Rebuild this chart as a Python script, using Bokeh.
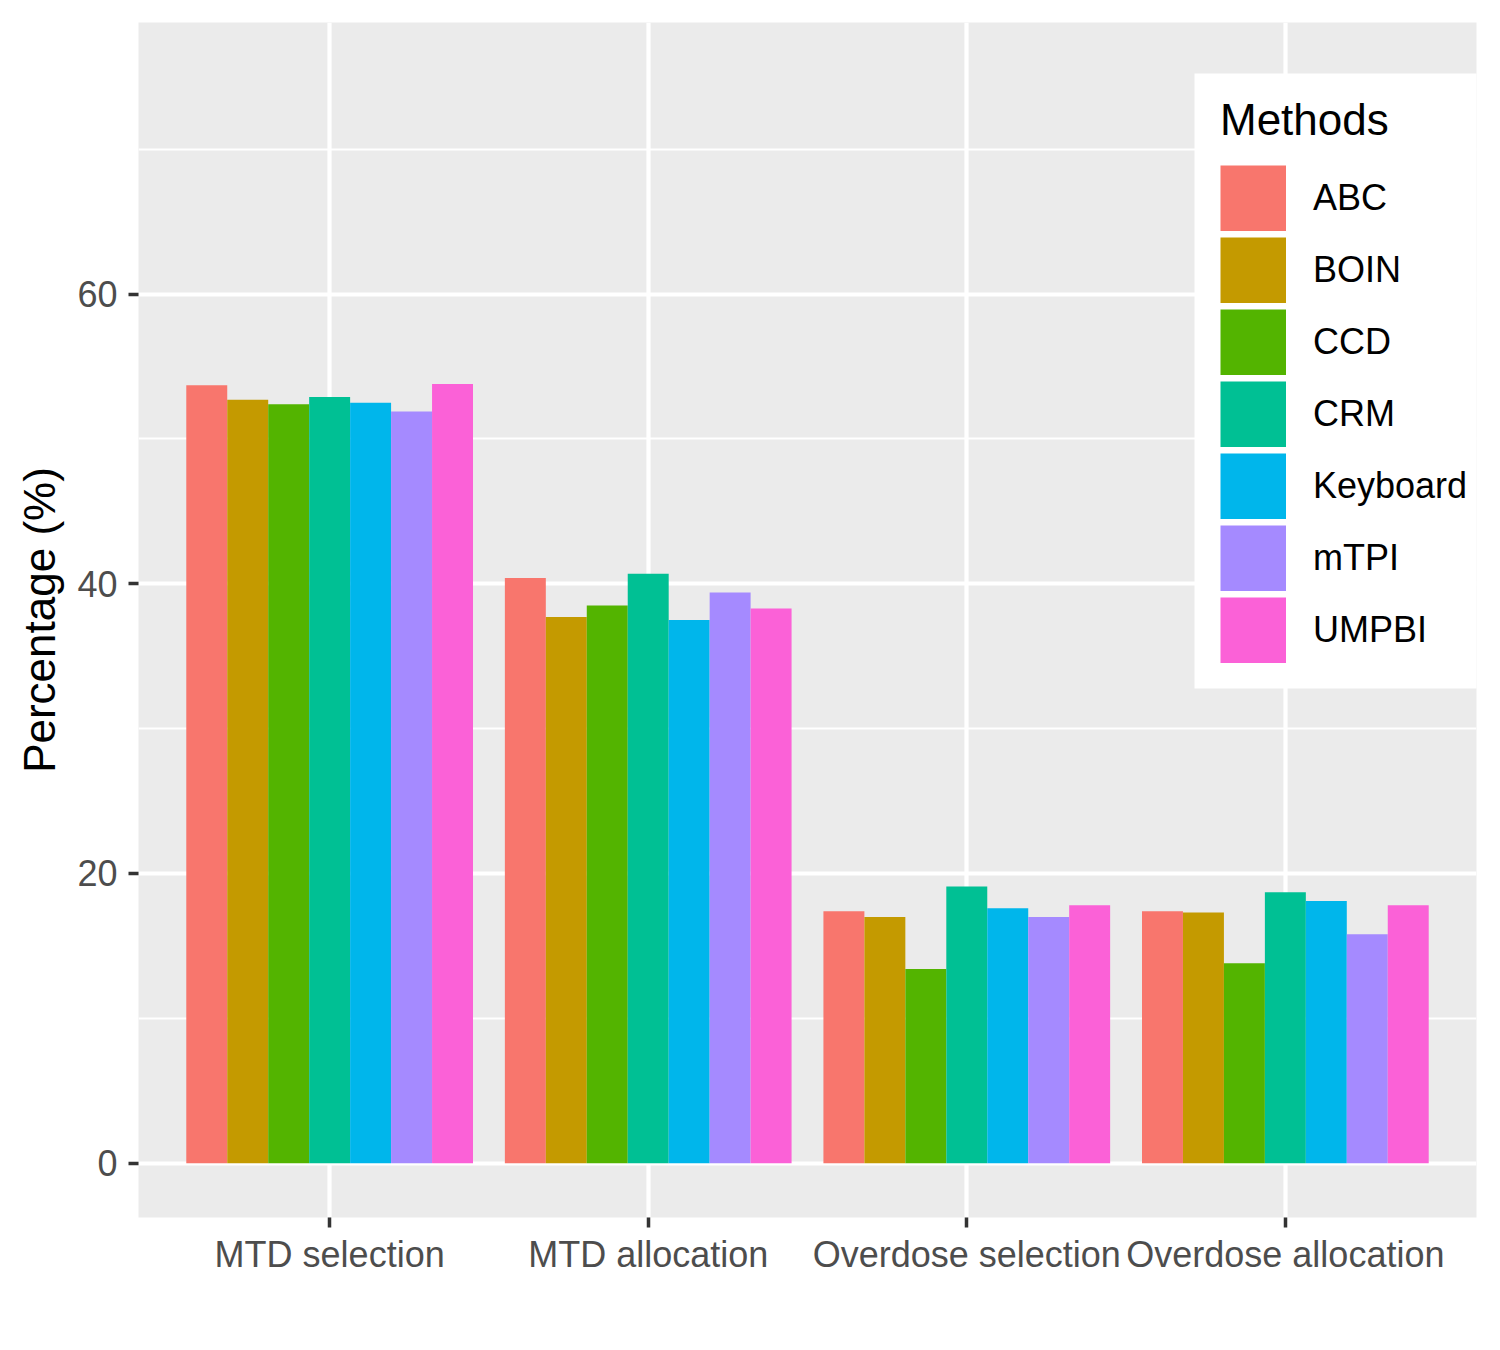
from bokeh.plotting import figure
from bokeh.models import (FactorRange, Range1d, FixedTicker, Legend, LegendItem,
                          ColumnDataSource, BoxAnnotation)
from bokeh.transform import dodge
from bokeh.embed import file_html
from bokeh.resources import INLINE

categories = ["MTD selection", "MTD allocation", "Overdose selection", "Overdose allocation"]
methods = ["ABC", "BOIN", "CCD", "CRM", "Keyboard", "mTPI", "UMPBI"]
colors = ["#F8766D", "#C49A00", "#53B400", "#00C094", "#00B6EB", "#A58AFF", "#FB61D7"]
abc = [53.7, 40.4, 17.4, 17.4]
boin = [52.7, 37.7, 17.0, 17.3]
ccd = [52.4, 38.5, 13.4, 13.8]
crm = [52.9, 40.7, 19.1, 18.7]
keyboard = [52.5, 37.5, 17.6, 18.1]
mtpi = [51.9, 39.4, 17.0, 15.8]
umpbi = [53.8, 38.3, 17.8, 17.8]
series = [abc, boin, ccd, crm, keyboard, mtpi, umpbi]
y_ticks = [0, 20, 40, 60]
y_minor = [10, 30, 50, 70]

FONT = "Liberation Sans"

x_range = FactorRange(factors=categories, range_padding=0.1, range_padding_units="absolute")
p = figure(x_range=x_range, y_range=Range1d(-3.75, 78.75),
           frame_width=1338, frame_height=1195,
           min_border_left=138, min_border_top=22, min_border_right=8, min_border_bottom=117,
           output_backend="svg", toolbar_location=None)
p.background_fill_color = "#EBEBEB"
p.border_fill_color = "white"
p.outline_line_color = None

bw = 0.9 / len(methods)
items = []
for i, (m, vals, c) in enumerate(zip(methods, series, colors)):
    src = ColumnDataSource(dict(cat=categories, value=vals))
    r = p.vbar(x=dodge("cat", (i - 3) * bw, range=p.x_range), top="value", bottom=0,
               width=bw, source=src, fill_color=c, line_color=None)
    # legend key swatch: a one-point line (draws nothing in the plot) that fills the key box
    key = p.line(x=[categories[0]], y=[0.0], line_color=c, line_width=66, line_cap="butt")
    items.append(LegendItem(label=m, renderers=[r, key]))

# grid
p.xgrid.grid_line_color = "white"
p.xgrid.grid_line_width = 4.2
p.ygrid.grid_line_color = "white"
p.ygrid.grid_line_width = 4.2
p.ygrid.minor_grid_line_color = "white"
p.ygrid.minor_grid_line_width = 2.1

p.yaxis.ticker = FixedTicker(ticks=y_ticks, minor_ticks=y_minor)
p.yaxis.axis_label = "Percentage (%)"

for ax in (p.xaxis[0], p.yaxis[0]):
    ax.axis_line_color = None
    ax.major_tick_line_color = "#333333"
    ax.major_tick_line_width = 3.5
    ax.major_tick_out = 10
    ax.major_tick_in = 0
    ax.minor_tick_line_color = None
    ax.major_label_text_font = FONT
    ax.major_label_text_font_size = "36px"
    ax.major_label_text_color = "#4D4D4D"
    ax.axis_label_text_font = FONT
    ax.axis_label_text_font_size = "44px"
    ax.axis_label_text_font_style = "normal"
    ax.axis_label_text_color = "black"

p.xaxis.major_label_standoff = 6
p.yaxis.major_label_standoff = 11
p.yaxis.axis_label_standoff = 10

# white legend background box (legend margins)
bg = BoxAnnotation(left=1056, right=1342, bottom=529, top=1144,
                   left_units="screen", right_units="screen",
                   bottom_units="screen", top_units="screen",
                   fill_color="white", fill_alpha=1.0, line_color=None)
p.add_layout(bg)

legend = Legend(items=items, location=(1082, 554), title="Methods",
                title_text_font=FONT, title_text_font_size="44px", title_text_font_style="normal",
                title_text_color="black", title_standoff=20,
                label_text_font=FONT, label_text_font_size="36px", label_text_color="black",
                glyph_width=66, glyph_height=66, spacing=6, label_standoff=27,
                padding=0, margin=0,
                background_fill_color="white", background_fill_alpha=1.0,
                border_line_color=None)
p.add_layout(legend)

open("out.html", "w").write(file_html(p, INLINE))
